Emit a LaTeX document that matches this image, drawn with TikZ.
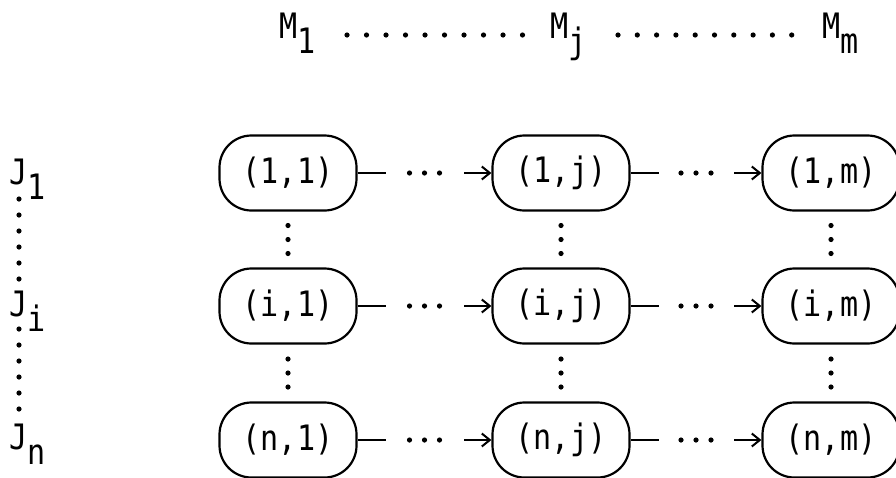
\documentclass[tikz,border=0pt]{standalone}
\usepackage{fontspec}
\newfontfamily\printfont[FakeStretch=0.86]{DejaVu Sans Mono}
\usetikzlibrary{arrows.meta}

% horizontal link: short stem, three dots, arrow into the next state
\newcommand\rowlink[2]{%
  \draw[conn] (#1.east) -- ++(28,0);
  \draw[arr] ([xshift=-27pt]#2.west) -- (#2.west);
  \path (#1.east) -- coordinate[midway] (hm) (#2.west);
  \foreach \k in {-15,0,15} \fill ([xshift=\k pt]hm) circle[radius=2.6pt];
}
% vertical ellipsis between two states of one column
\newcommand\colgap[2]{%
  \path (#1.south) -- coordinate[midway] (vm) (#2.north);
  \foreach \k in {-14,0,14} \fill ([yshift=\k pt]vm) circle[radius=2.6pt];
}

\begin{document}
\begin{tikzpicture}[x=1pt,y=-1pt,
  tt/.style={font=\printfont\fontsize{35}{35}\selectfont},
  cell/.style={tt, draw, line width=2.2pt, rounded corners=32pt,
    minimum width=137pt, minimum height=75pt, inner sep=0pt},
  lbl/.style={tt, anchor=base west, inner sep=0pt},
  conn/.style={line width=2pt},
  arr/.style={line width=2pt, -{Straight Barb[length=8pt,width=13pt]}}]
\useasboundingbox (0,0) rectangle (896,477);

% machine labels along the top
\node[lbl] (M1) at (279,38) {M\raisebox{-15pt}{1}};
\node[lbl] (Mj) at (550,38) {M\raisebox{-15pt}{j}};
\node[lbl] (Mm) at (822,38) {M\raisebox{-15pt}{m}};
\foreach \x in {0,...,9} \fill (347+19.5*\x,35) circle[radius=2.6pt];
\foreach \x in {0,...,9} \fill (618+19.3*\x,35) circle[radius=2.6pt];

% job labels down the left side
\node[lbl] (J1) at (9,184) {J\raisebox{-15pt}{1}};
\node[lbl] (Ji) at (9,316) {J\raisebox{-15pt}{i}};
\node[lbl] (Jn) at (9,449) {J\raisebox{-15pt}{n}};
\foreach \y in {199,215,231,247,263,279} \fill (19,\y) circle[radius=2.6pt];
\foreach \y in {329,345,361,377,393,409} \fill (19,\y) circle[radius=2.6pt];

% grid of operations
\node[cell] (a11) at (288,173) {(1,1)};
\node[cell] (a1j) at (561,173) {(1,j)};
\node[cell] (a1m) at (831,173) {(1,m)};
\node[cell] (ai1) at (288,306) {(i,1)};
\node[cell] (aij) at (561,306) {(i,j)};
\node[cell] (aim) at (831,306) {(i,m)};
\node[cell] (an1) at (288,440) {(n,1)};
\node[cell] (anj) at (561,440) {(n,j)};
\node[cell] (anm) at (831,440) {(n,m)};

\rowlink{a11}{a1j} \rowlink{a1j}{a1m}
\rowlink{ai1}{aij} \rowlink{aij}{aim}
\rowlink{an1}{anj} \rowlink{anj}{anm}

\colgap{a11}{ai1} \colgap{a1j}{aij} \colgap{a1m}{aim}
\colgap{ai1}{an1} \colgap{aij}{anj} \colgap{aim}{anm}
\end{tikzpicture}
\end{document}
